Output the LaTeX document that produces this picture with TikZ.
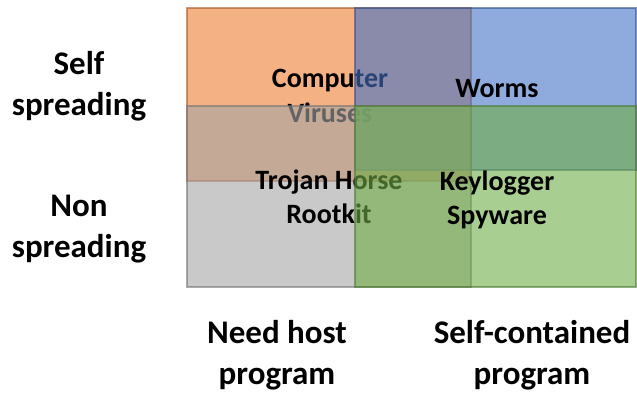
\documentclass[tikz,border=0pt]{standalone}
\usepackage{fontspec}
\setmainfont{Carlito}
\usepackage{tikz}
\definecolor{accOrange}{HTML}{ED7D31}
\definecolor{accBlue}{HTML}{4472C4}
\definecolor{accGray}{HTML}{A5A5A5}
\definecolor{accGreen}{HTML}{70AD47}

\begin{document}
\begin{tikzpicture}[
	x=1pt, y=-1pt,
	zone/.style={line width=1.2pt, fill opacity=0.6, draw opacity=0.6},
	item/.style={align=center, inner sep=0pt, font=\fontsize{28}{34.5}\selectfont\bfseries},
	axis/.style={align=center, inner sep=0pt, font=\fontsize{33}{41}\selectfont\bfseries}
	]
	\useasboundingbox (0,0) rectangle (637,392);
	
	% Need host program, self spreading
	\fill[zone, fill=accOrange, draw=accOrange!70!black] (187,8) rectangle (471,181);
	\node[item] (virus) at (330,96) {Computer\\Viruses};
	
	% Self-contained, self spreading
	\filldraw[zone, fill=accBlue, draw=accBlue!70!black] (355,8) rectangle (636,170);
	
	% Need host program, non spreading
	\filldraw[zone, fill=accGray, draw=accGray!70!black] (187,106) rectangle (471,287);
	\node[item] (trojan) at (329,197) {Trojan Horse\\Rootkit};
	
	% Self-contained, non spreading
	\filldraw[zone, fill=accGreen, draw=accGreen!70!black] (355,106) rectangle (636,287);
	
	\node[item] (worm) at (497,89) {Worms};
	\node[item] (keylog) at (497,200) {Keylogger\\Spyware};
	
	% Axis labels
	\node[axis] (selfsp) at (79,86) {Self\\spreading};
	\node[axis] (nonsp) at (79,229) {Non\\spreading};
	\node[axis] (hostprog) at (277,355) {Need host\\program};
	\node[axis] (selfcont) at (532,355) {Self-contained\\program};
	
\end{tikzpicture}
\end{document}
